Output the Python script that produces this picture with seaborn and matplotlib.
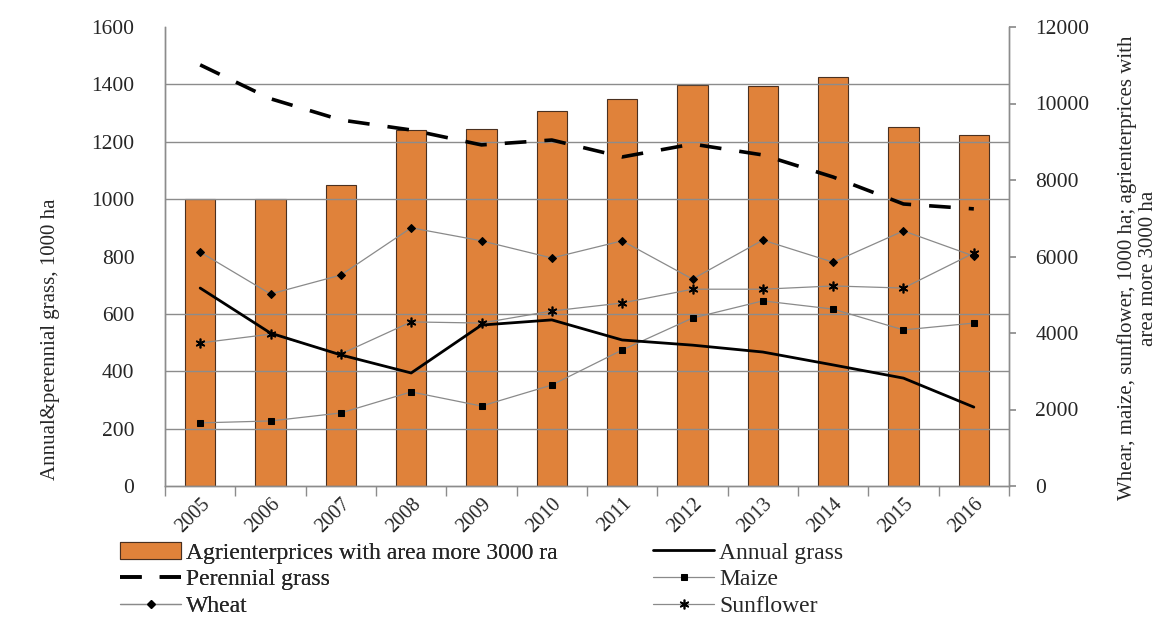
import numpy as np
import pandas as pd
import matplotlib
matplotlib.use("Agg")
import matplotlib.pyplot as plt
import seaborn as sns

# data
years = ["2005", "2006", "2007", "2008", "2009", "2010",
         "2011", "2012", "2013", "2014", "2015", "2016"]
# right axis (1000 ha / enterprises)
agrienterprises = [7500, 7500, 7870, 9300, 9330, 9800, 10120, 10480, 10460, 10690, 9390, 9170]
wheat = [6115, 5020, 5515, 6750, 6410, 5960, 6410, 5410, 6430, 5850, 6670, 6010]
maize = [1650, 1700, 1910, 2460, 2090, 2640, 3555, 4390, 4840, 4625, 4080, 4260]
sunflower = [3740, 3970, 3450, 4290, 4260, 4575, 4785, 5145, 5145, 5230, 5175, 6090]
# left axis (1000 ha)
annual_grass = [690, 533, 457, 394, 561, 579, 509, 491, 467, 422, 376, 275]
perennial_grass = [1468, 1350, 1276, 1241, 1189, 1206, 1147, 1192, 1154, 1077, 983, 966]

sns.set_theme(style="white")
plt.rcParams["font.family"] = ["Liberation Serif", "DejaVu Serif"]

df = pd.DataFrame({
    "year": years,
    "agri": agrienterprises,
    "wheat": wheat,
    "maize": maize,
    "sunflower": sunflower,
    "annual": annual_grass,
    "perennial": perennial_grass,
})

W, H = 1173, 619
fig = plt.figure(figsize=(W / 100, H / 100), dpi=100)
ax = fig.add_axes([165 / W, 1 - 486 / H, (1009 - 165) / W, (486 - 27) / H])
ax2 = ax.twinx()

grid_c = "#8c8c8c"

# bars + wheat/maize/sunflower on the right-scale axes (drawn first, below)
sns.barplot(data=df, x="year", y="agri", ax=ax, color="#E0823A", saturation=1,
            width=0.43, edgecolor="#4a3020", linewidth=0.8,
            label="Agrienterprices with area more 3000 ra")
line_kw = dict(color="#8a8a8a", linewidth=0.9, markeredgecolor="black",
               markerfacecolor="black", sort=False, zorder=3)
sns.lineplot(data=df, x="year", y="wheat", ax=ax, marker="D", markersize=4.5,
             label="Wheat", **line_kw)
sns.lineplot(data=df, x="year", y="maize", ax=ax, marker="s", markersize=5,
             label="Maize", **line_kw)
sns.lineplot(data=df, x="year", y="sunflower", ax=ax, marker=(6, 2, 0), markersize=7,
             markeredgewidth=1.2, label="Sunflower", **line_kw)

# grass lines on the left-scale axes
sns.lineplot(data=df, x="year", y="perennial", ax=ax2, color="black", linewidth=2.6,
             dashes=(6, 5), sort=False, label="Perennial grass")
sns.lineplot(data=df, x="year", y="annual", ax=ax2, color="black", linewidth=2,
             sort=False, label="Annual grass")

ax.set_ylim(0, 12000)
ax2.set_ylim(0, 1600)
ax.set_xlim(-0.5, 11.5)

# right scale shown on the right, left scale on the left
ax.yaxis.tick_right()
ax.yaxis.set_label_position("right")
ax2.yaxis.tick_left()
ax2.yaxis.set_label_position("left")
ax.set_yticks(np.arange(0, 12001, 2000))
ax2.set_yticks(np.arange(0, 1601, 200))
ax.tick_params(axis="y", which="major", length=5, color=grid_c, labelsize=15.5, pad=14)
ax2.tick_params(axis="y", length=0, labelsize=15.5, pad=22)

# gridlines follow the left scale, over the bars
ax.set_yticks(np.arange(0, 12001, 1500), minor=True)
ax.tick_params(axis="y", which="minor", length=0)
ax.grid(False)
ax.yaxis.grid(True, which="minor", color=grid_c, linewidth=1)
ax.set_axisbelow(False)
ax2.grid(False)

# x axis: labels at the centres, tick marks between categories
ax.set_xticks(range(len(years)))
ax.set_xticklabels(years, rotation=45, ha="right", rotation_mode="anchor", fontsize=14.5)
ax.set_xticks(np.arange(-0.5, 12, 1), minor=True)
ax.tick_params(axis="x", which="major", length=0, pad=6)
ax.tick_params(axis="x", which="minor", length=7, color=grid_c, bottom=True, direction="out")
ax2.tick_params(axis="x", length=0)

for a in (ax, ax2):
    for s in a.spines.values():
        s.set_color(grid_c)
        s.set_linewidth(1)
    a.spines["top"].set_visible(False)

ax.set_xlabel("")
ax.set_ylabel("Whear, maize, sunflower, 1000 ha; agrienterprices with\narea more 3000 ha",
              fontsize=15, linespacing=1.15)
ax.yaxis.set_label_coords((1117 - 165) / 844, 0.475)
ax2.set_ylabel("Annual&perennial grass, 1000 ha", fontsize=15)
ax2.yaxis.set_label_coords((60 - 165) / 844, 0.32)

# legend under the plot, two blocks like the original
h1, l1 = ax.get_legend_handles_labels()
h2, l2 = ax2.get_legend_handles_labels()
ax.get_legend().remove()
ax2.get_legend().remove()
hd = dict(zip(l1 + l2, h1 + h2))
left_keys = ["Agrienterprices with area more 3000 ra", "Perennial grass", "Wheat"]
right_keys = ["Annual grass", "Maize", "Sunflower"]
leg_kw = dict(loc="upper left", frameon=False, fontsize=17, handlelength=2.6,
              handletextpad=0.2, labelspacing=0.22, borderaxespad=0, borderpad=0)
leg1 = fig.legend([hd[k] for k in left_keys], left_keys,
                  bbox_to_anchor=(120 / W, 1 - 542 / H), **leg_kw)
fig.legend([hd[k] for k in right_keys], right_keys,
           bbox_to_anchor=(653 / W, 1 - 542 / H), **leg_kw)
fig.add_artist(leg1)

fig.savefig("out.png", dpi=100)
